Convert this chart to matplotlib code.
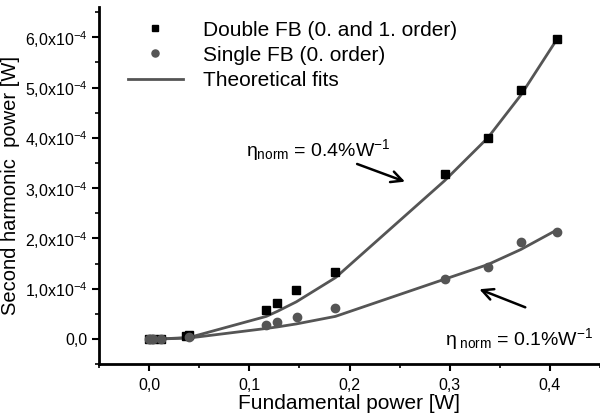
import matplotlib
matplotlib.use("Agg")
import matplotlib.pyplot as plt
from matplotlib.ticker import MultipleLocator

plt.rcParams['font.family'] = ['Liberation Sans', 'DejaVu Sans']
plt.rcParams['mathtext.fontset'] = 'custom'
plt.rcParams['mathtext.rm'] = 'Liberation Sans'
plt.rcParams['mathtext.it'] = 'Liberation Sans'

# measured data (fundamental power in W, SH power in W)
x_double = [0.0, 0.004, 0.012, 0.037, 0.040, 0.117, 0.128, 0.147, 0.186, 0.295, 0.338, 0.371, 0.407]
y_double = [0.0, 0.0, 0.0, 0.06e-4, 0.07e-4, 0.57e-4, 0.71e-4, 0.97e-4, 1.33e-4, 3.29e-4, 4.0e-4, 4.95e-4, 5.96e-4]

x_single = [0.0, 0.004, 0.012, 0.040, 0.117, 0.128, 0.148, 0.186, 0.295, 0.338, 0.371, 0.407]
y_single = [0.0, 0.0, 0.0, 0.04e-4, 0.28e-4, 0.33e-4, 0.44e-4, 0.61e-4, 1.19e-4, 1.43e-4, 1.92e-4, 2.12e-4]

# theoretical fits
x_fit = [0.0, 0.012, 0.040, 0.117, 0.128, 0.147, 0.186, 0.295, 0.338, 0.371, 0.407]
fit_double = [0.0, 0.002e-4, 0.03e-4, 0.45e-4, 0.55e-4, 0.74e-4, 1.22e-4, 3.15e-4, 4.0e-4, 4.85e-4, 5.96e-4]
fit_single = [0.0, 0.001e-4, 0.02e-4, 0.21e-4, 0.24e-4, 0.3e-4, 0.45e-4, 1.19e-4, 1.48e-4, 1.78e-4, 2.17e-4]

y_ticks = [0, 1e-4, 2e-4, 3e-4, 4e-4, 5e-4, 6e-4]
y_labels = ['0,0'] + [r'%d,0x10$^{-4}$' % i for i in range(1, 7)]
x_ticks = [0.0, 0.1, 0.2, 0.3, 0.4]
x_labels = ['0,0', '0,1', '0,2', '0,3', '0,4']

grey = '#555555'

fig = plt.figure(figsize=(6, 4.2), dpi=100)
ax = fig.add_axes([0.165, 0.133, 0.835, 0.85])

ax.plot(x_double, y_double, 's', color='black', markersize=5.7, label='Double FB (0. and 1. order)', zorder=3)
ax.plot(x_single, y_single, 'o', color=grey, markersize=6, label='Single FB (0. order)', zorder=3)
ax.plot(x_fit, fit_double, '-', color=grey, lw=2, label='Theoretical fits')
ax.plot(x_fit, fit_single, '-', color=grey, lw=2)

ax.set_xlim(-0.05, 0.45)
ax.set_ylim(-0.5e-4, 6.6e-4)
ax.set_xticks(x_ticks)
ax.set_xticklabels(x_labels)
ax.set_yticks(y_ticks)
ax.set_yticklabels(y_labels)
ax.xaxis.set_minor_locator(MultipleLocator(0.05))
ax.yaxis.set_minor_locator(MultipleLocator(0.5e-4))
ax.tick_params(which='major', direction='out', length=5, width=1.5, labelsize=11.5, pad=3)
ax.tick_params(axis='x', which='major', pad=5)
ax.tick_params(which='minor', direction='out', length=3, width=1.2)

for s in ['top', 'right']:
    ax.spines[s].set_visible(False)
for s in ['left', 'bottom']:
    ax.spines[s].set_linewidth(2)

ax.set_xlabel('Fundamental power [W]', fontsize=15, labelpad=1)
ax.set_ylabel('Second harmonic  power [W]', fontsize=14.5, labelpad=4)

ax.legend(loc='upper left', bbox_to_anchor=(0.02, 1.015), frameon=False, fontsize=15,
          handlelength=2.65, labelspacing=0.3, handletextpad=0.95, markerscale=0.85)

ax.text(0.097, 3.64e-4, r'$\eta_{\rm norm}$ = 0.4%W$^{-1}$', fontsize=14)
ax.annotate('', xy=(0.258, 3.11e-4), xytext=(0.205, 3.50e-4),
            arrowprops=dict(arrowstyle='->', color='black', lw=1.8, mutation_scale=20))
ax.text(0.295, -0.12e-4, r'$\eta_{\rm\ norm}$ = 0.1%W$^{-1}$', fontsize=14)
ax.annotate('', xy=(0.327, 1.01e-4), xytext=(0.378, 0.61e-4),
            arrowprops=dict(arrowstyle='->', color='black', lw=1.8, mutation_scale=20))

fig.savefig('out.png', dpi=100)
